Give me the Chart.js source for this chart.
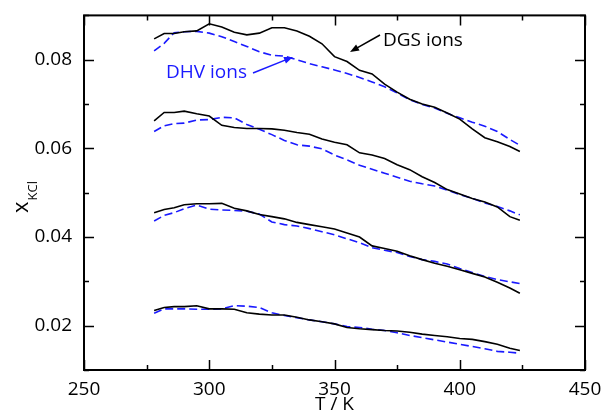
<!DOCTYPE html>
<html>
<head>
<meta charset="utf-8">
<script src="https://cdn.jsdelivr.net/npm/chart.js@4"></script>
<style>
    html, body { margin: 0; padding: 0; background: #fff; }
    #wrap { width: 604px; height: 412px; }
</style>
</head>
<body>
<div id="wrap"><canvas id="chart" width="604" height="412"></canvas></div>
<script>
// ── data ────────────────────────────────────────────────────────
const temps = [278, 282, 286, 290, 295, 300, 305, 310, 315, 320, 325, 330, 335, 340, 345,
               350, 355, 360, 365, 370, 375, 380, 385, 390, 395, 400, 405, 410, 415, 420, 424];

// DGS ions (black solid)
const dgs1 = [0.0847, 0.0859, 0.0859, 0.0863, 0.0865, 0.0881, 0.0874, 0.0862, 0.0856, 0.0860, 0.0872, 0.0872, 0.0865, 0.0853, 0.0836,
              0.0807, 0.0796, 0.0776, 0.0768, 0.0745, 0.0727, 0.0711, 0.0700, 0.0693, 0.0680, 0.0666, 0.0644, 0.0624, 0.0615, 0.0604, 0.0593];
const dgs2 = [0.0662, 0.0681, 0.0681, 0.0684, 0.0678, 0.0673, 0.0652, 0.0647, 0.0645, 0.0645, 0.0644, 0.0641, 0.0636, 0.0632, 0.0621,
              0.0614, 0.0608, 0.0590, 0.0585, 0.0577, 0.0563, 0.0552, 0.0536, 0.0523, 0.0507, 0.0497, 0.0487, 0.0479, 0.0468, 0.0446, 0.0438];
const dgs3 = [0.0455, 0.0462, 0.0466, 0.0473, 0.0475, 0.0475, 0.0476, 0.0465, 0.0459, 0.0451, 0.0446, 0.0441, 0.0433, 0.0428, 0.0423,
              0.0418, 0.0409, 0.0400, 0.0380, 0.0374, 0.0368, 0.0358, 0.0349, 0.0341, 0.0334, 0.0326, 0.0318, 0.0310, 0.0298, 0.0285, 0.0273];
const dgs4 = [0.0234, 0.0241, 0.0243, 0.0243, 0.0245, 0.0238, 0.0238, 0.0237, 0.0229, 0.0226, 0.0224, 0.0224, 0.0219, 0.0213, 0.0209,
              0.0204, 0.0196, 0.0193, 0.0191, 0.0189, 0.0188, 0.0185, 0.0181, 0.0178, 0.0175, 0.0171, 0.0169, 0.0164, 0.0158, 0.0149, 0.0144];

// DHV ions (blue dashed)
const dhv1 = [0.0820, 0.0837, 0.0861, 0.0863, 0.0864, 0.0860, 0.0852, 0.0841, 0.0830, 0.0818, 0.0810, 0.0808, 0.0800, 0.0791, 0.0784,
              0.0777, 0.0769, 0.0760, 0.0750, 0.0739, 0.0725, 0.0710, 0.0699, 0.0691, 0.0679, 0.0669, 0.0659, 0.0650, 0.0638, 0.0620, 0.0607];
const dhv2 = [0.0638, 0.0651, 0.0656, 0.0657, 0.0664, 0.0665, 0.0670, 0.0669, 0.0654, 0.0643, 0.0631, 0.0618, 0.0608, 0.0605, 0.0599,
              0.0585, 0.0574, 0.0562, 0.0553, 0.0544, 0.0535, 0.0526, 0.0520, 0.0515, 0.0506, 0.0496, 0.0487, 0.0477, 0.0469, 0.0459, 0.0450];
const dhv3 = [0.0436, 0.0449, 0.0455, 0.0464, 0.0472, 0.0463, 0.0461, 0.0460, 0.0458, 0.0452, 0.0434, 0.0428, 0.0425, 0.0419, 0.0412,
              0.0405, 0.0396, 0.0387, 0.0376, 0.0370, 0.0365, 0.0356, 0.0349, 0.0345, 0.0339, 0.0329, 0.0320, 0.0311, 0.0304, 0.0299, 0.0295];
const dhv4 = [0.0228, 0.0238, 0.0238, 0.0238, 0.0237, 0.0237, 0.0238, 0.0245, 0.0244, 0.0241, 0.0229, 0.0223, 0.0218, 0.0213, 0.0209,
              0.0204, 0.0198, 0.0196, 0.0192, 0.0189, 0.0184, 0.0178, 0.0173, 0.0168, 0.0163, 0.0158, 0.0153, 0.0148, 0.0142, 0.0140, 0.0138];

const xMin = 250, xMax = 450, xStep = 25;
const yMin = 0.01, yMax = 0.09, yStep = 0.01;

// ── style ───────────────────────────────────────────────────────
Chart.defaults.font.family = "'Open Sans', 'DejaVu Sans', sans-serif";
Chart.defaults.color = '#000';

const FONT = "'Open Sans', 'DejaVu Sans', sans-serif";
const BLUE = '#1a1aff';

function pts(ys) {
    return ys.map((y, i) => ({ x: temps[i], y: y }));
}

function dgsSet(ys) {
    return { data: pts(ys), borderColor: '#000', borderWidth: 1.6, pointRadius: 0, tension: 0, fill: false };
}

function dhvSet(ys) {
    return { data: pts(ys), borderColor: BLUE, borderWidth: 1.6, borderDash: [8, 4], pointRadius: 0, tension: 0, fill: false };
}

// inward ticks on all four sides, frame, axis titles and the two labels
const framePlugin = {
    id: 'frame',
    afterDraw(chart) {
        const ctx = chart.ctx;
        const a = chart.chartArea;
        const xs = chart.scales.x, ys = chart.scales.y;
        ctx.save();
        ctx.strokeStyle = '#000';
        ctx.lineWidth = 1.5;

        xs.ticks.forEach(t => {
            const px = Math.round(xs.getPixelForValue(t.value)) + 0.5;
            const len = (Math.round(t.value) % 50 === 0) ? 10 : 5;
            ctx.beginPath();
            ctx.moveTo(px, a.bottom); ctx.lineTo(px, a.bottom - len);
            ctx.moveTo(px, a.top); ctx.lineTo(px, a.top + len);
            ctx.stroke();
        });
        ys.ticks.forEach(t => {
            const py = Math.round(ys.getPixelForValue(t.value)) + 0.5;
            const len = (Math.round(t.value * 100) % 2 === 0) ? 10 : 5;
            ctx.beginPath();
            ctx.moveTo(a.left, py); ctx.lineTo(a.left + len, py);
            ctx.moveTo(a.right, py); ctx.lineTo(a.right - len, py);
            ctx.stroke();
        });

        ctx.lineWidth = 2;
        ctx.strokeRect(a.left, a.top, a.right - a.left, a.bottom - a.top);

        // x title
        ctx.fillStyle = '#000';
        ctx.font = '19px ' + FONT;
        ctx.textAlign = 'center';
        ctx.textBaseline = 'alphabetic';
        ctx.fillText('T / K', (a.left + a.right) / 2, 410);

        // y title: x with subscript KCl
        ctx.save();
        ctx.translate(28, 213);
        ctx.rotate(-Math.PI / 2);
        ctx.textAlign = 'left';
        ctx.font = '22px ' + FONT;
        ctx.fillText('x', 0, 0);
        const w = ctx.measureText('x').width;
        ctx.font = '13px ' + FONT;
        ctx.fillText('KCl', w + 1, 9);
        ctx.restore();

        // labels with arrows
        ctx.font = '19px ' + FONT;
        ctx.textAlign = 'left';
        ctx.fillStyle = '#000';
        ctx.fillText('DGS ions', 383, 46);
        drawArrow(ctx, 380, 35, 350, 52, '#000');

        ctx.fillStyle = BLUE;
        ctx.fillText('DHV ions', 166, 78);
        drawArrow(ctx, 253, 73, 293, 57, BLUE);

        ctx.restore();
    }
};

function drawArrow(ctx, x1, y1, x2, y2, color) {
    const ang = Math.atan2(y2 - y1, x2 - x1);
    const hl = 9, hw = 3.5;
    ctx.strokeStyle = color;
    ctx.fillStyle = color;
    ctx.lineWidth = 1.5;
    ctx.beginPath();
    ctx.moveTo(x1, y1);
    ctx.lineTo(x2 - Math.cos(ang) * hl * 0.8, y2 - Math.sin(ang) * hl * 0.8);
    ctx.stroke();
    ctx.beginPath();
    ctx.moveTo(x2, y2);
    ctx.lineTo(x2 - Math.cos(ang) * hl - Math.sin(ang) * hw, y2 - Math.sin(ang) * hl + Math.cos(ang) * hw);
    ctx.lineTo(x2 - Math.cos(ang) * hl + Math.sin(ang) * hw, y2 - Math.sin(ang) * hl - Math.cos(ang) * hw);
    ctx.closePath();
    ctx.fill();
}

new Chart(document.getElementById('chart'), {
    type: 'line',
    data: {
        datasets: [
            dgsSet(dgs1), dgsSet(dgs2), dgsSet(dgs3), dgsSet(dgs4),
            dhvSet(dhv1), dhvSet(dhv2), dhvSet(dhv3), dhvSet(dhv4)
        ]
    },
    options: {
        responsive: false,
        animation: false,
        layout: { padding: { top: 15, right: 19, left: 0, bottom: 0 } },
        plugins: {
            legend: { display: false },
            tooltip: { enabled: false }
        },
        scales: {
            x: {
                type: 'linear',
                min: xMin,
                max: xMax,
                grid: { display: false },
                border: { display: false },
                ticks: {
                    stepSize: xStep,
                    padding: 0,
                    maxRotation: 0,
                    autoSkip: false,
                    font: { size: 19 },
                    color: '#000',
                    callback: v => (Math.round(v) % 50 === 0 ? String(v) : '')
                },
                afterFit: s => { s.height = 42; }
            },
            y: {
                min: yMin,
                max: yMax,
                grid: { display: false },
                border: { display: false },
                ticks: {
                    stepSize: yStep,
                    padding: 4,
                    autoSkip: false,
                    font: { size: 19 },
                    color: '#000',
                    callback: v => (Math.round(v * 100) % 2 === 0 ? v.toFixed(2) : '')
                },
                afterFit: s => { s.width = 84; }
            }
        }
    },
    plugins: [framePlugin]
});
</script>
</body>
</html>
